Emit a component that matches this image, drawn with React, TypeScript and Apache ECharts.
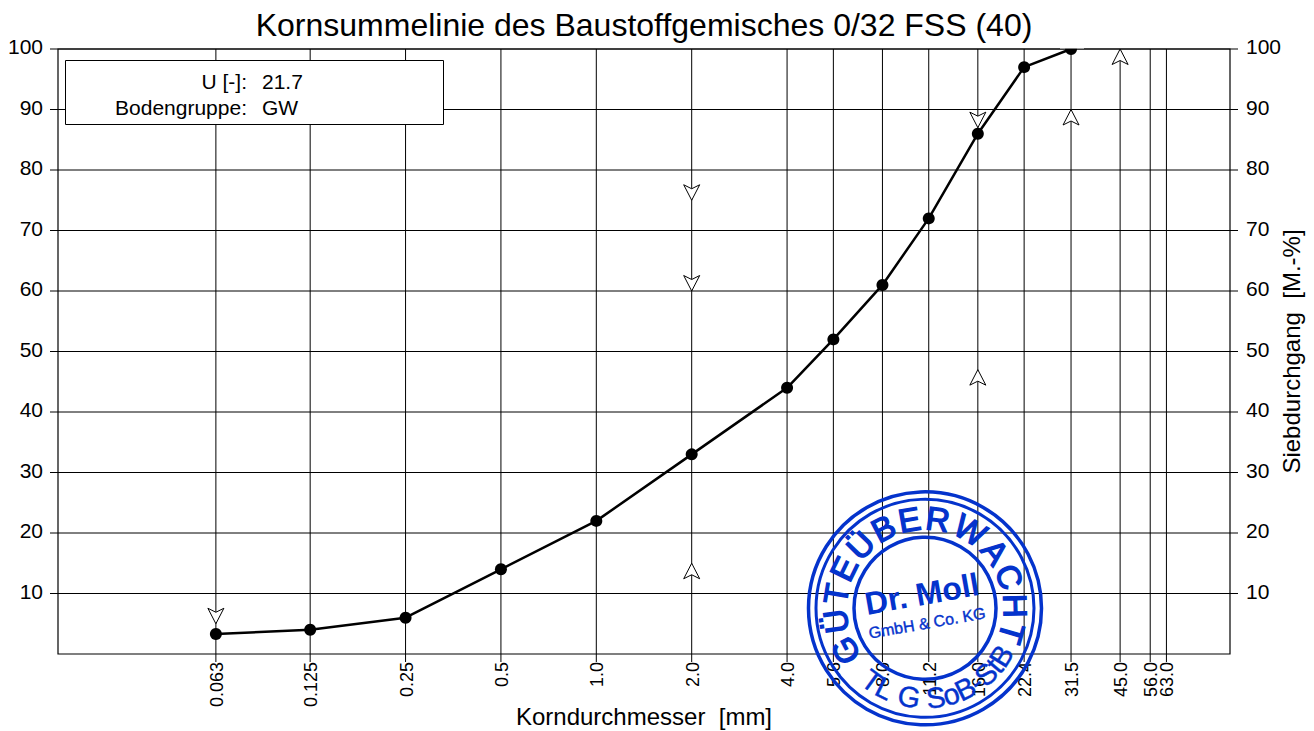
import React, { useEffect, useRef } from "react";
import * as echarts from "echarts";

const FONT = "Liberation Sans";
const titleText = "Kornsummelinie des Baustoffgemisches 0/32 FSS (40)";
const sieves = [0.063, 0.125, 0.25, 0.5, 1.0, 2.0, 4.0, 5.6, 8.0, 11.2, 16.0, 22.4, 31.5, 45.0, 56.0, 63.0];
const sieveLabels = ["0.063", "0.125", "0.25", "0.5", "1.0", "2.0", "4.0", "5.6", "8.0", "11.2", "16.0", "22.4", "31.5", "45.0", "56.0", "63.0"];
const curveX = [0.063, 0.125, 0.25, 0.5, 1.0, 2.0, 4.0, 5.6, 8.0, 11.2, 16.0, 22.4, 31.5];
const curveY = [3.3, 4, 6, 14, 22, 33, 44, 52, 61, 72, 86, 97, 100];
const upperX = [0.063, 2.0, 2.0, 16.0];
const upperY = [5, 75, 60, 87];
const lowerX = [2.0, 16.0, 31.5, 45.0];
const lowerY = [15, 47, 90, 100];
const yTicks = [10, 20, 30, 40, 50, 60, 70, 80, 90, 100];
const X_MIN = 0.02;
const X_MAX = 100;

const BLUE = "#0433cc";
const cx = 925;
const cy = 608.3;

function letterWidth(c: string) {
  const w: Record<string, number> = { G: 0.778, "Ü": 0.722, T: 0.611, E: 0.667, B: 0.667, R: 0.722, W: 0.944, A: 0.667, C: 0.722, H: 0.722, L: 0.556, S: 0.667, o: 0.556, "-": 0.333, t: 0.278, " ": 0.35 };
  return w[c] ?? 0.6;
}

function arcLetters(text: string, startDeg: number, endDeg: number, r: number, size: number, bottom: boolean, weight: number) {
  const chars = Array.from(text);
  const widths = chars.map(letterWidth);
  const span = widths.reduce((a, b) => a + b, 0) - widths[0] / 2 - widths[widths.length - 1] / 2;
  let run = 0;
  return chars.map((c, i) => {
    if (i > 0) run += (widths[i - 1] + widths[i]) / 2;
    const deg = startDeg + ((endDeg - startDeg) * run) / span;
    const a = (deg * Math.PI) / 180;
    const x = cx + r * Math.sin(a);
    const y = bottom ? cy + r * Math.cos(a) : cy - r * Math.cos(a);
    return {
      type: "text",
      z: 100,
      x,
      y,
      rotation: bottom ? a : -a,
      style: { text: c, font: `${size}px "${FONT}"`, fill: BLUE, stroke: BLUE, lineWidth: weight, align: "center", verticalAlign: "middle" },
    };
  });
}

function buildOption() {
  const lineStyle = { stroke: "#000", lineWidth: 1, fill: "none" };
  const sievesSeries = {
    type: "custom",
    z: 2,
    silent: true,
    data: sieves.map((s, i) => [s, 0, i]),
    renderItem: (_p: any, api: any) => {
      const v = api.value(0);
      const top = api.coord([v, 100]);
      const bot = api.coord([v, 0]);
      return {
        type: "group",
        children: [
          { type: "line", shape: { x1: top[0], y1: top[1], x2: bot[0], y2: bot[1] + 8 }, style: lineStyle },
          {
            type: "text",
            x: bot[0] + 1,
            y: bot[1] + 8,
            rotation: Math.PI / 2,
            style: { text: sieveLabels[api.value(2)], font: `18px "${FONT}"`, fill: "#000", align: "right", verticalAlign: "middle" },
          },
        ],
      };
    },
  };
  const horizontals = {
    type: "custom",
    z: 2,
    silent: true,
    data: yTicks.map((t) => [X_MIN, t]),
    renderItem: (_p: any, api: any) => {
      const l = api.coord([X_MIN, api.value(1)]);
      const r = api.coord([X_MAX, api.value(1)]);
      return { type: "line", shape: { x1: l[0] - 8, y1: l[1], x2: r[0] + 8, y2: r[1] }, style: lineStyle };
    },
  };
  const frame = {
    type: "custom",
    z: 2,
    silent: true,
    data: [[X_MIN, 0]],
    renderItem: (_p: any, api: any) => {
      const a = api.coord([X_MIN, 0]);
      const b = api.coord([X_MAX, 100]);
      return { type: "rect", shape: { x: a[0], y: b[1], width: b[0] - a[0], height: a[1] - b[1] }, style: { stroke: "#000", lineWidth: 1.2, fill: "none" } };
    },
  };
  const arrow = (dir: number, xs: number[], ys: number[]) => ({
    type: "custom",
    z: 3,
    silent: true,
    data: xs.map((x, i) => [x, ys[i]]),
    renderItem: (_p: any, api: any) => {
      const p = api.coord([api.value(0), api.value(1)]);
      const s = dir;
      return {
        type: "polygon",
        shape: {
          points: [
            [p[0], p[1]],
            [p[0] + 8, p[1] + s * 15.5],
            [p[0], p[1] + s * 11.5],
            [p[0] - 8, p[1] + s * 15.5],
          ],
        },
        style: { fill: "#fff", stroke: "#000", lineWidth: 1 },
      };
    },
  });
  const curve = {
    type: "line",
    z: 4,
    silent: true,
    data: curveX.map((x, i) => [x, curveY[i]]),
    symbol: "circle",
    symbolSize: 12,
    showSymbol: true,
    clip: false,
    lineStyle: { color: "#000", width: 2.5 },
    itemStyle: { color: "#000" },
  };

  const yAxisBase = {
    type: "value",
    min: 0,
    max: 100,
    interval: 10,
    axisLine: { show: false },
    axisTick: { show: false },
    splitLine: { show: false },
  };
  const yLabel = {
    color: "#000",
    fontFamily: FONT,
    fontSize: 21,
    margin: 15,
    verticalAlign: "bottom",
    lineHeight: 5,
    formatter: (v: number) => (v === 0 ? "" : String(v)),
  };

  return {
    animation: false,
    backgroundColor: "#fff",
    title: {
      text: titleText,
      left: 639,
      textAlign: "center",
      top: 4,
      textStyle: { color: "#000", fontFamily: FONT, fontSize: 32, fontWeight: "normal" },
    },
    grid: { left: 58, top: 49, width: 1172, height: 605, containLabel: false, outerBoundsMode: "none" },
    xAxis: {
      type: "log",
      logBase: 10,
      min: X_MIN,
      max: X_MAX,
      name: "Korndurchmesser  [mm]",
      nameLocation: "middle",
      nameGap: 50,
      nameTextStyle: { color: "#000", fontFamily: FONT, fontSize: 24 },
      axisLine: { show: false },
      axisTick: { show: false },
      axisLabel: { show: false },
      splitLine: { show: false },
      minorTick: { show: false },
      minorSplitLine: { show: false },
    },
    yAxis: [
      { ...yAxisBase, position: "left", axisLabel: yLabel },
      {
        ...yAxisBase,
        position: "right",
        axisLabel: { ...yLabel, margin: 16 },
        name: "Siebdurchgang  [M.-%]",
        nameLocation: "middle",
        nameRotate: 90,
        nameGap: 49,
        nameMoveOverlap: false,
        nameTextStyle: { color: "#000", fontFamily: FONT, fontSize: 24 },
      },
    ],
    series: [horizontals, sievesSeries, frame, arrow(-1, upperX, upperY), arrow(1, lowerX, lowerY), curve],
    graphic: {
      elements: [
        { type: "rect", z: 90, shape: { x: 1060, y: 38, width: 24, height: 10.5 }, style: { fill: "#fff" } },
        { type: "rect", z: 90, shape: { x: 65.5, y: 60.5, width: 378, height: 64 }, style: { fill: "#fff", stroke: "#000", lineWidth: 1 } },
        { type: "text", z: 91, x: 247, y: 81, style: { text: "U [-]:", font: `21px "${FONT}"`, fill: "#000", align: "right", verticalAlign: "middle" } },
        { type: "text", z: 91, x: 262, y: 81, style: { text: "21.7", font: `21px "${FONT}"`, fill: "#000", align: "left", verticalAlign: "middle" } },
        { type: "text", z: 91, x: 247, y: 107, style: { text: "Bodengruppe:", font: `21px "${FONT}"`, fill: "#000", align: "right", verticalAlign: "middle" } },
        { type: "text", z: 91, x: 262, y: 107, style: { text: "GW", font: `21px "${FONT}"`, fill: "#000", align: "left", verticalAlign: "middle" } },
        { type: "circle", z: 100, shape: { cx, cy, r: 116.5 }, style: { fill: "none", stroke: BLUE, lineWidth: 3.5 } },
        { type: "circle", z: 100, shape: { cx, cy, r: 109 }, style: { fill: "none", stroke: BLUE, lineWidth: 3 } },
        { type: "circle", z: 100, shape: { cx, cy, r: 71 }, style: { fill: "none", stroke: BLUE, lineWidth: 3.5 } },
        ...arcLetters("GÜTEÜBERWACHT", -118, 106, 90, 33, false, 1.4),
        ...arcLetters("TL G SoB-StB", -36, 58, 90, 29, true, 0.4),
        { type: "text", z: 100, x: 922, y: 594, rotation: (10 * Math.PI) / 180, style: { text: "Dr. Moll", font: `bold 32px "${FONT}"`, fill: BLUE, align: "center", verticalAlign: "middle" } },
        { type: "text", z: 100, x: 927, y: 623, rotation: (10 * Math.PI) / 180, style: { text: "GmbH & Co. KG", font: `16px "${FONT}"`, fill: BLUE, stroke: BLUE, lineWidth: 0.4, align: "center", verticalAlign: "middle" } },
      ],
    },
  };
}

export default function App() {
  const ref = useRef<HTMLDivElement>(null);
  useEffect(() => {
    const chart = echarts.init(ref.current!, undefined, { renderer: "svg" });
    chart.setOption(buildOption() as any);
    return () => chart.dispose();
  }, []);
  return <div ref={ref} style={{ position: "fixed", left: 0, top: 0, width: 1314, height: 731 }} />;
}
